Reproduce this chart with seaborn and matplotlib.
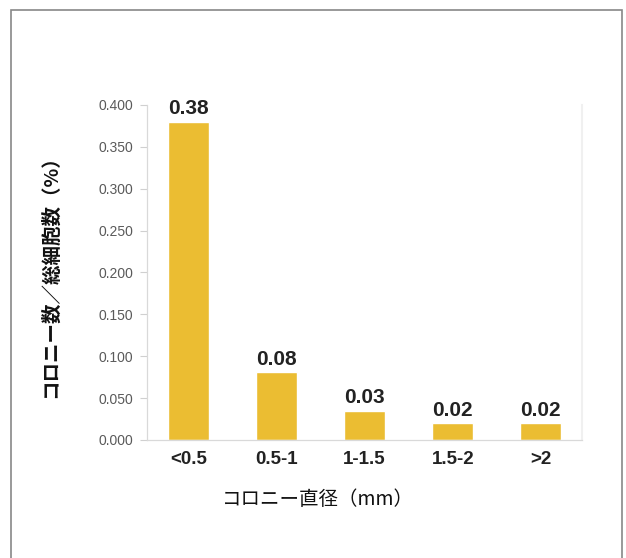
import matplotlib
matplotlib.use('Agg')
import pandas as pd
import matplotlib.pyplot as plt
import seaborn as sns
from matplotlib.patches import Rectangle

categories = ["<0.5", "0.5-1", "1-1.5", "1.5-2", ">2"]
values = [0.38, 0.081, 0.035, 0.020, 0.020]
value_labels = ["0.38", "0.08", "0.03", "0.02", "0.02"]
yticks = [0.0, 0.05, 0.10, 0.15, 0.20, 0.25, 0.30, 0.35, 0.40]

df = pd.DataFrame({"size": categories, "ratio": values})

sns.set_style("white")
plt.rcParams['font.family'] = ['Liberation Sans', 'Noto Sans CJK JP']

fig = plt.figure(figsize=(6.26, 5.58), dpi=100)
ax = fig.add_axes([0.235, 0.2115, 0.695, 0.6005])

sns.barplot(data=df, x="size", y="ratio", color="#EBBD32", width=0.47,
            saturation=1, ax=ax)

for i, (v, lab) in enumerate(zip(values, value_labels)):
    ax.text(i, v + 0.004, lab, ha='center', va='bottom', fontsize=15,
            fontweight='bold', color='#222222')

ax.set_xlim(-0.47, 4.47)
ax.set_ylim(0, 0.4)
ax.set_yticks(yticks)
ax.set_yticklabels([f"{t:.3f}" for t in yticks], fontsize=10, color='#5a5a5a')
ax.set_xticks(range(len(categories)))
ax.set_xticklabels(categories, fontsize=13.5, fontweight='bold', color='#222222')
ax.set_xticks([0.5, 1.5, 2.5, 3.5], minor=True)
ax.tick_params(axis='x', which='major', length=0, pad=8)
ax.tick_params(axis='x', which='minor', length=5, color='#e0e0e0', width=0.8)
ax.tick_params(axis='y', which='major', length=5, color='#d0d0d0', width=0.8, pad=5, left=True)
ax.set_xlabel("")
ax.set_ylabel("")

for side in ['left', 'bottom']:
    ax.spines[side].set_color('#d9d9d9')
    ax.spines[side].set_linewidth(0.9)
ax.spines['top'].set_visible(False)
ax.spines['right'].set_color('#f0f0f0')
ax.spines['right'].set_linewidth(1.5)

fig.text(0.08, 0.513, "コロニー数／総細胞数（%）", rotation=90, ha='center', va='center',
         fontsize=14, fontweight='bold', family=['Noto Sans CJK JP'], color='#111111')
fig.text(0.508, 0.104, "コロニー直径（mm）", ha='center', va='center',
         fontsize=14, fontweight='normal', family=['Noto Sans CJK JP'], color='#111111')

fig.patches.append(Rectangle((0.0176, -0.05), 0.976, 1.032, transform=fig.transFigure,
                             fill=False, edgecolor='#888888', linewidth=1.2))

fig.savefig("out.png", dpi=100)
